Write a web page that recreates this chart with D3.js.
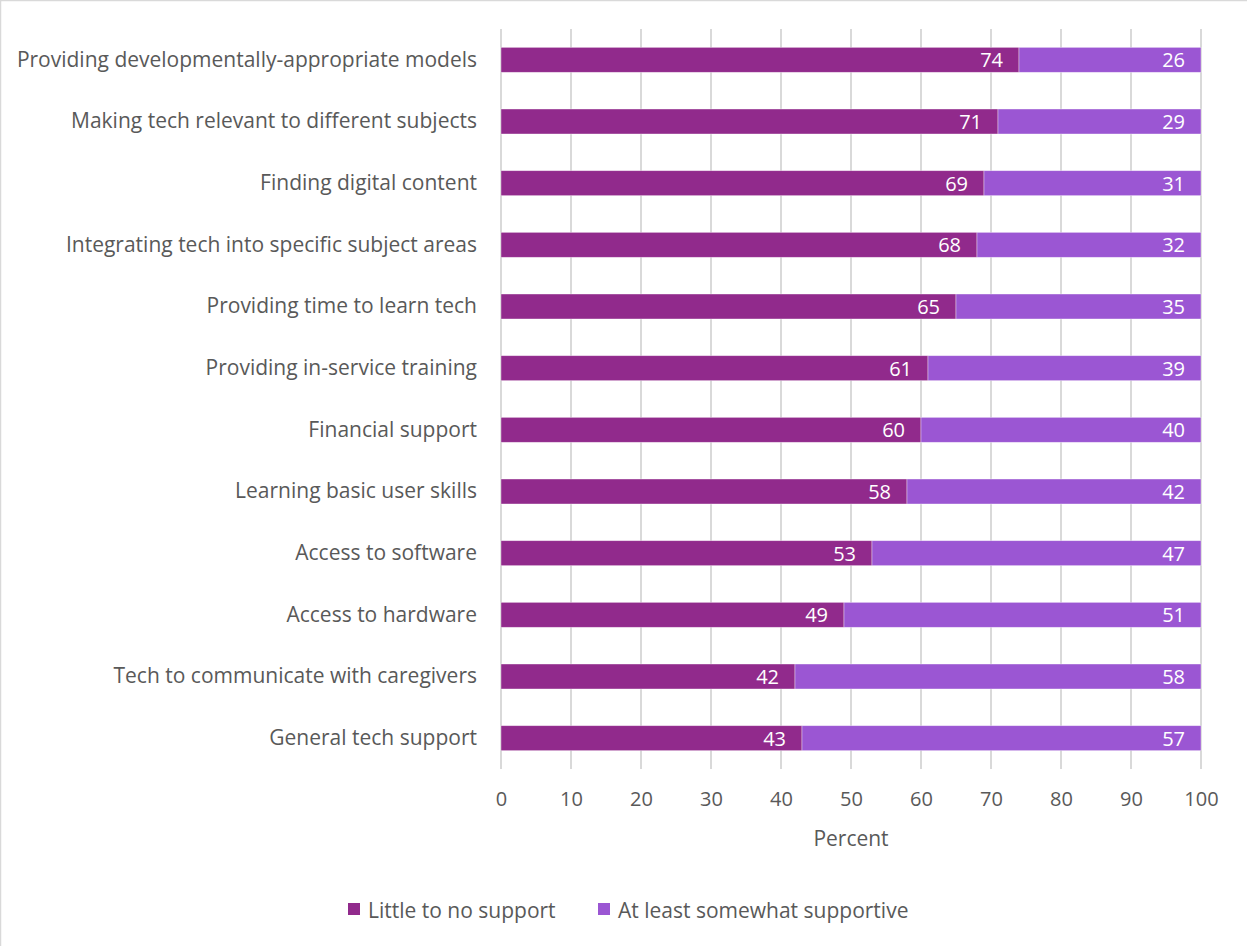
<!DOCTYPE html>
<html>
<head>
<meta charset="utf-8">
<script src="https://cdn.jsdelivr.net/npm/d3@7"></script>
<style>
  html, body { margin: 0; padding: 0; background: #fff; }
  svg { display: block; }
  text { font-family: "Open Sans", "Noto Sans", sans-serif; }
</style>
</head>
<body>
<svg id="chart" width="1247" height="946"></svg>
<script>
// Survey items, top to bottom
const categories = [
  "Providing developmentally-appropriate models",
  "Making tech relevant to different subjects",
  "Finding digital content",
  "Integrating tech into specific subject areas",
  "Providing time to learn tech",
  "Providing in-service training",
  "Financial support",
  "Learning basic user skills",
  "Access to software",
  "Access to hardware",
  "Tech to communicate with caregivers",
  "General tech support"
];
const littleSupport = [74, 71, 69, 68, 65, 61, 60, 58, 53, 49, 42, 43];
const somewhatSupportive = [26, 29, 31, 32, 35, 39, 40, 42, 47, 51, 58, 57];
const seriesNames = ["Little to no support", "At least somewhat supportive"];
const seriesColors = ["#912a8c", "#9b56d3"];
const xTicks = [0, 10, 20, 30, 40, 50, 60, 70, 80, 90, 100];
const xTitle = "Percent";

const svg = d3.select("#chart");
const W = 1247, H = 946;
const m = { left: 501, right: 46, top: 29, bottom: 177 };

// outer frame (left/top edges visible)
svg.append("rect").attr("x", 0.5).attr("y", 0.5).attr("width", W + 10).attr("height", H + 10)
  .attr("fill", "#fff").attr("stroke", "#d9d9d9").attr("stroke-width", 1.5);

const x = d3.scaleLinear().domain([0, 100]).range([m.left, W - m.right]);
const y = d3.scaleBand().domain(categories).range([m.top, H - m.bottom]).paddingInner(0.595).paddingOuter(0.2975);

// vertical gridlines
svg.append("g").selectAll("line").data(xTicks).join("line")
  .attr("x1", d => x(d)).attr("x2", d => x(d))
  .attr("y1", m.top).attr("y2", H - m.bottom)
  .attr("stroke", "#d9d9d9").attr("stroke-width", 2);

const rows = categories.map((c, i) => ({ c, a: littleSupport[i], b: somewhatSupportive[i] }));

const g = svg.append("g");
// first segment
g.selectAll("rect.a").data(rows).join("rect").attr("class", "a")
  .attr("x", x(0)).attr("y", d => y(d.c))
  .attr("width", d => x(d.a) - x(0)).attr("height", y.bandwidth())
  .attr("fill", seriesColors[0]).attr("stroke", "#fff").attr("stroke-opacity", 0.5).attr("stroke-width", 0.75);
// second segment
g.selectAll("rect.b").data(rows).join("rect").attr("class", "b")
  .attr("x", d => x(d.a)).attr("y", d => y(d.c))
  .attr("width", d => x(d.a + d.b) - x(d.a)).attr("height", y.bandwidth())
  .attr("fill", seriesColors[1]).attr("stroke", "#fff").attr("stroke-opacity", 0.5).attr("stroke-width", 0.75);

// value labels, inside end
const lblSize = 20;
g.selectAll("text.la").data(rows).join("text").attr("class", "la")
  .attr("x", d => x(d.a) - 16).attr("y", d => y(d.c) + y.bandwidth() / 2)
  .attr("text-anchor", "end").attr("dominant-baseline", "central")
  .attr("fill", "#fff").attr("font-size", lblSize).text(d => d.a);
g.selectAll("text.lb").data(rows).join("text").attr("class", "lb")
  .attr("x", d => x(d.a + d.b) - 16).attr("y", d => y(d.c) + y.bandwidth() / 2)
  .attr("text-anchor", "end").attr("dominant-baseline", "central")
  .attr("fill", "#fff").attr("font-size", lblSize).text(d => d.b);

// category axis
const yAxis = svg.append("g").attr("transform", `translate(${m.left},0)`)
  .call(d3.axisLeft(y).tickSize(0).tickPadding(24));
yAxis.select(".domain").remove();
yAxis.selectAll("text").attr("fill", "#595959").attr("font-size", 21);

// value axis
const xAxis = svg.append("g").attr("transform", `translate(0,${H - m.bottom})`)
  .call(d3.axisBottom(x).tickValues(xTicks).tickSize(0).tickPadding(23));
xAxis.select(".domain").remove();
xAxis.selectAll("text").attr("fill", "#595959").attr("font-size", 20);

svg.append("text").attr("x", (x(0) + x(100)) / 2).attr("y", 846)
  .attr("text-anchor", "middle").attr("fill", "#595959").attr("font-size", 21).text(xTitle);

// legend
const legendX = [348, 598];
const leg = svg.append("g");
seriesNames.forEach((n, i) => {
  leg.append("rect").attr("x", legendX[i]).attr("y", 903).attr("width", 12).attr("height", 12)
    .attr("fill", seriesColors[i]);
  leg.append("text").attr("x", legendX[i] + 20).attr("y", 910)
    .attr("dominant-baseline", "central").attr("fill", "#595959").attr("font-size", 21).text(n);
});
</script>
</body>
</html>
